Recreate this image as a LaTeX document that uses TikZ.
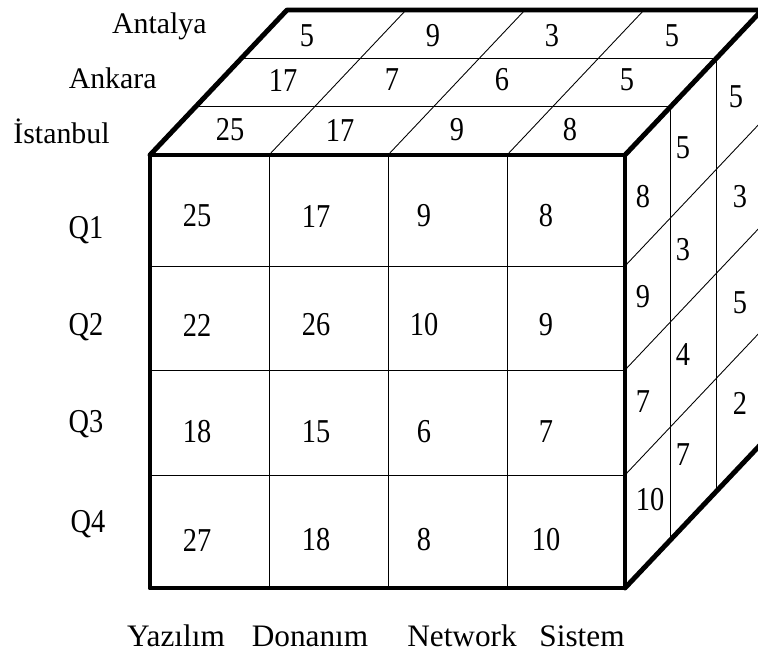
\documentclass[tikz,border=0pt]{standalone}
\usepackage{fontspec}
\setmainfont{Liberation Serif}
\newfontfamily\tallfont[FakeStretch=0.85]{Liberation Serif}

\begin{document}
\begin{tikzpicture}[x=0.02cm, y=-0.02cm,
	edge/.style={line width=2.8pt, line cap=round, line join=round},
	thin grid/.style={line width=0.5pt},
	num/.style={inner sep=0pt, font=\tallfont\fontsize{19}{19}\selectfont},
	city/.style={inner sep=0pt, anchor=base east, font=\fontsize{17}{17}\selectfont},
	quarter/.style={inner sep=0pt, anchor=base, font=\tallfont\fontsize{19}{19}\selectfont},
	product/.style={inner sep=0pt, anchor=base, font=\fontsize{17.8}{17.8}\selectfont}]
	\useasboundingbox (0, 0) rectangle (758, 654);

	% front face grid
	\foreach \x in {269, 388, 507}
		\draw[thin grid] (\x, 155) -- (\x, 588);
	\foreach \y in {266, 370, 475}
		\draw[thin grid] (150, \y) -- (625, \y);

	% top face: layer lines and column slants
	\foreach \k in {1, 2}
		\draw[thin grid] (150 + \k*45.7, 155 - \k*48.3) -- (625 + \k*45.7, 155 - \k*48.3);
	\foreach \x in {269, 388, 507}
		\draw[thin grid] (\x, 155) -- (\x + 137, 10);

	% right face: layer lines and row slants
	\foreach \k in {1, 2}
		\draw[thin grid] (625 + \k*45.7, 155 - \k*48.3) -- (625 + \k*45.7, 588 - \k*48.3);
	\foreach \y in {266, 370, 475}
		\draw[thin grid] (625, \y) -- (762, \y - 145);

	% outer edges
	\draw[edge] (150, 155) rectangle (625, 588);
	\draw[edge] (150, 155) -- (287, 10) -- (762, 10) -- (625, 155);
	\draw[edge] (625, 588) -- (762, 443) -- (762, 10);

	% front values
	\foreach \y/\a/\b/\c/\d in {216/25/17/9/8, 325/22/26/10/9, 432/18/15/6/7, 540/27/18/8/10} {
		\node[num] at (197, \y) {\a};
		\node[num] at (316, \y) {\b};
		\node[num] at (424, \y) {\c};
		\node[num] at (546, \y) {\d};
	}

	% top values
	\foreach \x/\y/\v in {230/130/25, 340/130/17, 457/130/9, 570/130/8,
		283/80/17, 392/80/7, 502/80/6, 627/80/5,
		307/36/5, 433/36/9, 552/36/3, 672/36/5}
		\node[num] at (\x, \y) {\v};

	% right values
	\foreach \x/\y/\v in {643/197/8, 643/297/9, 643/402/7, 650/500/10,
		683/148/5, 683/250/3, 683/355/4, 683/455/7,
		736/97/5, 740/197/3, 740/303/5, 740/403/2}
		\node[num] at (\x, \y) {\v};

	% cities
	\node[city] (antalya) at (207, 33) {Antalya};
	\node[city] (ankara) at (157, 88) {Ankara};
	\node[city] (istanbul) at (110, 143) {İstanbul};

	% quarters
	\node[quarter] (q1) at (86, 238) {Q1};
	\node[quarter] (q2) at (86, 335) {Q2};
	\node[quarter] (q3) at (86, 432) {Q3};
	\node[quarter] (q4) at (88, 532) {Q4};

	% products
	\node[product] (yazilim) at (176, 646) {Yazılım};
	\node[product] (donanim) at (310, 646) {Donanım};
	\node[product] (network) at (462, 646) {Network};
	\node[product] (sistem) at (582, 646) {Sistem};
\end{tikzpicture}
\end{document}
